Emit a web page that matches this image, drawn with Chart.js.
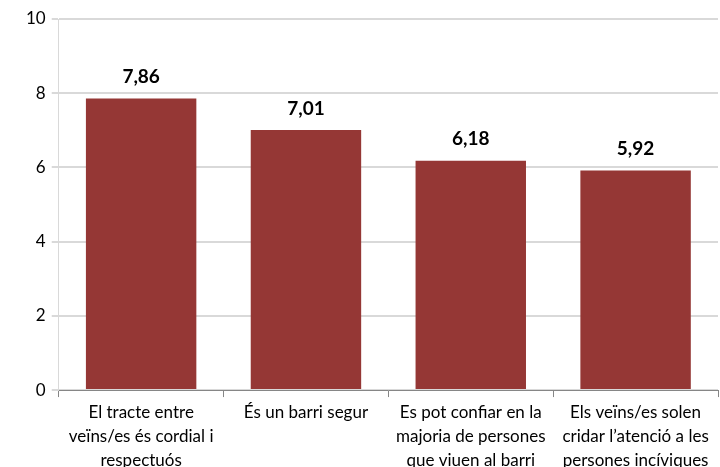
<!DOCTYPE html>
<html>
<head>
<meta charset="utf-8">
<script src="https://cdn.jsdelivr.net/npm/chart.js@4.4.1/dist/chart.umd.min.js"></script>
<style>
  html, body { margin: 0; padding: 0; background: #fff; }
  #wrap { width: 720px; height: 467px; }
</style>
</head>
<body>
<div id="wrap"><canvas id="barri"></canvas></div>
<script>
let categories = [
  ['El tracte entre', 'veïns/es és cordial i', 'respectuós'],
  ['És un barri segur'],
  ['Es pot confiar en la', 'majoria de persones', 'que viuen al barri'],
  ['Els veïns/es solen', 'cridar l\u2019atenció a les', 'persones incíviques']
]
let values = [7.86, 7.01, 6.18, 5.92]
let yTicks = [0, 2, 4, 6, 8, 10]

// draws the value above each bar (no datalabels plugin available)
let valueLabels = {
  id: 'valueLabels',
  afterDatasetsDraw(chart) {
    let ctx = chart.ctx
    let meta = chart.getDatasetMeta(0)
    ctx.save()
    ctx.fillStyle = '#000'
    ctx.font = 'bold 19px Lato, "Open Sans", sans-serif'
    ctx.textAlign = 'center'
    ctx.textBaseline = 'bottom'
    meta.data.forEach(function (bar, i) {
      ctx.fillText(values[i].toFixed(2).replace('.', ','), bar.x, bar.y - 12)
    })
    ctx.restore()
  }
}

let chart = new Chart(document.querySelector('#barri'), {
  type: 'bar',
  plugins: [valueLabels],
  data: {
    labels: categories,
    datasets: [{
      data: values,
      backgroundColor: '#953735',
      barPercentage: 0.67,
      categoryPercentage: 1
    }]
  },
  options: {
    responsive: true,
    maintainAspectRatio: false,
    animation: false,
    layout: {
      padding: { top: 19, right: 2, left: 20, bottom: -9 }
    },
    scales: {
      x: {
        border: { display: true, color: '#868686', width: 1 },
        grid: {
          offset: true,
          drawOnChartArea: false,
          drawTicks: true,
          tickLength: 7,
          color: '#868686'
        },
        ticks: {
          color: '#000',
          maxRotation: 0,
          autoSkip: false,
          padding: 3,
          font: { family: 'Lato, "Open Sans", sans-serif', size: 17, lineHeight: 1.43 }
        }
      },
      y: {
        min: 0,
        max: 10,
        afterBuildTicks: function (axis) {
          axis.ticks = yTicks.map(function (v) { return { value: v } })
        },
        border: { display: true, color: '#d9d9d9' },
        grid: {
          color: '#d9d9d9',
          lineWidth: 2,
          tickLength: 7
        },
        ticks: {
          color: '#000',
          padding: 6,
          font: { family: 'Lato, "Open Sans", sans-serif', size: 17 }
        }
      }
    },
    plugins: {
      legend: { display: false },
      tooltip: { enabled: false }
    }
  }
})
</script>
</body>
</html>
